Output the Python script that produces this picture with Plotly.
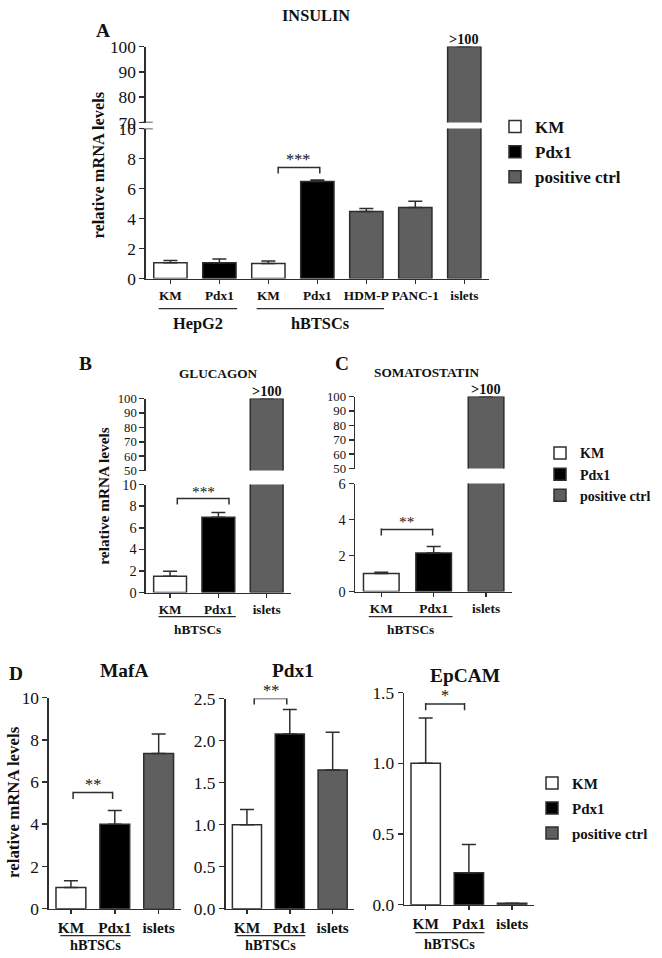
import plotly.graph_objects as go

W, H = 662, 958
# the page is photographed slightly reduced and shifted; positions below are given in
# picture pixels and converted with this measured mapping
S, OX, OY = 0.98, 2.0, 8.5
SERIF = "Liberation Serif, Times New Roman, DejaVu Serif, serif"
EDGE = "#2e2e2e"
COLORS = {"KM": "#ffffff", "Pdx1": "#000000", "positive ctrl": "#5f5f5f"}
SERIES_ORDER = ["KM", "Pdx1", "positive ctrl"]

# ---------------- data ----------------
# A: INSULIN
ins_cats = ["KM", "Pdx1", "KM", "Pdx1", "HDM-P", "PANC-1", "islets"]
ins_series = ["KM", "Pdx1", "KM", "Pdx1", "positive ctrl", "positive ctrl", "positive ctrl"]
ins_values = [1.05, 1.05, 1.0, 6.47, 4.47, 4.73, 100]
ins_errors = [0.15, 0.26, 0.17, 0.1, 0.2, 0.42, 0]
ins_groups = [("HepG2", 0, 1), ("hBTSCs", 2, 4)]

# B: GLUCAGON
glu_cats = ["KM", "Pdx1", "islets"]
glu_series = ["KM", "Pdx1", "positive ctrl"]
glu_values = [1.52, 6.97, 100]
glu_errors = [0.45, 0.45, 0]

# C: SOMATOSTATIN
som_cats = ["KM", "Pdx1", "islets"]
som_series = ["KM", "Pdx1", "positive ctrl"]
som_values = [1.0, 2.15, 100]
som_errors = [0.07, 0.35, 0]

# D: MafA, Pdx1, EpCAM
d_cats = ["KM", "Pdx1", "islets"]
d_series = ["KM", "Pdx1", "positive ctrl"]
mafa_values = [1.0, 4.0, 7.35]
mafa_errors = [0.32, 0.65, 0.93]
pdx_values = [1.0, 2.08, 1.65]
pdx_errors = [0.18, 0.29, 0.45]
epcam_values = [1.0, 0.225, 0.01]
epcam_errors = [0.32, 0.2, 0]
d_groups = [("hBTSCs", 0, 1)]

fig = go.Figure()


def PX(x):
    return ((x - OX) / S) / W


def PY(y):
    return 1 - ((y - OY) / S) / H


def FS(f):
    return round(f / S, 2)


def xd(p0, p1):
    return [PX(p0), PX(p1)]


def yd(top, bot):
    return [PY(bot), PY(top)]


def add_bars(n, values, errors, series, ymin=None, legend=None, show=False):
    ax = "" if n == 1 else str(n)
    for s in SERIES_ORDER:
        idx = [i for i, v in enumerate(series) if v == s and (ymin is None or values[i] > ymin)]
        if not idx:
            continue
        fig.add_trace(go.Bar(
            x=idx, y=[values[i] for i in idx], width=0.68, name=s, legendgroup=s,
            marker=dict(color=COLORS[s], line=dict(color=EDGE, width=1.5)),
            error_y=dict(type="data", symmetric=False,
                         array=[errors[i] for i in idx],
                         arrayminus=[0] * len(idx),
                         color=EDGE, thickness=1.5, width=7),
            xaxis="x" + ax, yaxis="y" + ax, showlegend=show,
            legend=legend if legend else "legend",
        ))


def axes(n, xdom, ydom, nc, yrange, ytickvals, ytickfmt, tfs, cats=None, cfs=12, xvis=True):
    ax = "" if n == 1 else str(n)
    xa = dict(domain=xdom, range=[-0.5, nc - 0.5], anchor="y" + ax, visible=xvis,
              showline=True, linecolor=EDGE, linewidth=1.5, showgrid=False, zeroline=False,
              ticks="outside", ticklen=4, tickwidth=1.5, tickcolor=EDGE,
              tickvals=list(range(nc)),
              ticktext=["<b>%s</b>" % c for c in cats] if cats else None,
              tickfont=dict(family=SERIF, size=FS(cfs), color="#111"), fixedrange=True)
    ya = dict(domain=ydom, range=yrange, anchor="x" + ax,
              showline=True, linecolor=EDGE, linewidth=1.5, showgrid=False, zeroline=False,
              ticks="outside", ticklen=5, tickwidth=1.5, tickcolor=EDGE,
              tickvals=ytickvals, tickformat=ytickfmt,
              tickfont=dict(family=SERIF, size=FS(tfs), color="#111"), fixedrange=True)
    fig.update_layout(**{"xaxis" + ax: xa, "yaxis" + ax: ya})


def bracket(n, x0, x1, y, tick, stars, size=16):
    ax = "" if n == 1 else str(n)
    xr, yr = "x" + ax, "y" + ax
    ln = dict(color=EDGE, width=1.5)
    fig.add_shape(type="line", xref=xr, yref=yr, x0=x0, x1=x1, y0=y, y1=y, line=ln)
    fig.add_shape(type="line", xref=xr, yref=yr, x0=x0, x1=x0, y0=y - tick, y1=y + tick * 0.15, line=ln)
    fig.add_shape(type="line", xref=xr, yref=yr, x0=x1, x1=x1, y0=y - tick, y1=y + tick * 0.15, line=ln)
    fig.add_annotation(xref=xr, yref=yr, x=(x0 + x1) / 2, y=y, text=stars, showarrow=False,
                       yanchor="bottom", yshift=-3, font=dict(family=SERIF, size=FS(size), color="#111"))


def groups(n, grp, line_py, label_py, fs):
    ax = "" if n == 1 else str(n)
    for name, a, b in grp:
        x0, x1 = a - 0.24, b + 0.36
        fig.add_shape(type="line", xref="x" + ax, yref="paper", x0=x0, x1=x1,
                      y0=PY(line_py), y1=PY(line_py), line=dict(color=EDGE, width=1.2))
        fig.add_annotation(xref="x" + ax, yref="paper", x=(x0 + x1) / 2, y=PY(label_py),
                           text="<b>%s</b>" % name, showarrow=False, yanchor="middle",
                           font=dict(family=SERIF, size=FS(fs), color="#111"))


def text(x, y, s, fs, angle=0, bold=True):
    fig.add_annotation(xref="paper", yref="paper", x=PX(x), y=PY(y),
                       text=("<b>%s</b>" % s) if bold else s, showarrow=False,
                       textangle=angle, xanchor="center", yanchor="middle",
                       font=dict(family=SERIF, size=FS(fs), color="#111"))


def over100(n, xi, yv):
    ax = "" if n == 1 else str(n)
    fig.add_annotation(xref="x" + ax, yref="y" + ax, x=xi, y=yv, text="<b>&gt;100</b>",
                       showarrow=False, yanchor="bottom", yshift=-2,
                       font=dict(family=SERIF, size=FS(14), color="#111"))


# ---------------- Panel A ----------------
axes(1, xd(145, 481), yd(128, 278), len(ins_cats), [0, 10], [0, 2, 4, 6, 8, 10], None, 17, ins_cats, 13)
axes(2, xd(145, 481), yd(46, 122), len(ins_cats), [70, 100], [70, 80, 90, 100], None, 17, None, 13, xvis=False)
add_bars(1, ins_values, ins_errors, ins_series, legend="legend", show=True)
add_bars(2, ins_values, ins_errors, ins_series, ymin=70)
over100(2, 6, 100)
bracket(1, 2.2, 3.05, 7.4, 0.4, "***")
groups(1, ins_groups, 308, 323, 16)
for yref, yv in (("y2", 70), ("y", 10)):
    fig.add_shape(type="line", xref="x domain" if yref == "y" else "x2 domain", yref=yref,
                  x0=-0.012, x1=0.02, y0=yv, y1=yv, line=dict(color=EDGE, width=1.5))
text(312, 15, "INSULIN", 16)
text(103, 30, "A", 19)
text(99, 164, "relative mRNA levels", 16, -90)

# ---------------- Panel B ----------------
axes(3, xd(145, 287), yd(484, 592), 3, [0, 10], [0, 2, 4, 6, 8, 10], None, 14, glu_cats, 13)
axes(4, xd(145, 287), yd(398, 470), 3, [50, 100], [50, 60, 70, 80, 90, 100], None, 12.5, None, 13, xvis=False)
add_bars(3, glu_values, glu_errors, glu_series)
add_bars(4, glu_values, glu_errors, glu_series, ymin=50)
over100(4, 2, 100)
bracket(3, 0.15, 1.22, 8.7, 0.55, "***", 15)
groups(3, d_groups, 616, 629, 13)
text(216, 373, "GLUCAGON", 13)
text(86, 363, "B", 19)
text(104, 496, "relative mRNA levels", 15, -90)

# ---------------- Panel C ----------------
axes(5, xd(350, 504), yd(483, 591), 3, [0, 6], [0, 2, 4, 6], None, 14, som_cats, 13)
axes(6, xd(350, 504), yd(396, 468), 3, [50, 100], [50, 60, 70, 80, 90, 100], None, 12.5, None, 13, xvis=False)
add_bars(5, som_values, som_errors, som_series, legend="legend2", show=True)
add_bars(6, som_values, som_errors, som_series, ymin=50)
over100(6, 2, 100)
bracket(5, 0.0, 0.98, 3.45, 0.33, "**", 15)
groups(5, d_groups, 616, 629, 13)
text(420, 372, "SOMATOSTATIN", 13)
text(337, 363, "C", 19)

# ---------------- Panel D ----------------
axes(7, xd(50, 179), yd(697, 908), 3, [0, 10], [0, 2, 4, 6, 8, 10], None, 17, d_cats, 15)
axes(8, xd(223, 349), yd(698, 908), 3, [0, 2.5], [0, 0.5, 1, 1.5, 2, 2.5], ".1f", 17, d_cats, 15)
axes(9, xd(398, 525), yd(692, 904), 3, [0, 1.5], [0, 0.5, 1, 1.5], ".1f", 17, d_cats, 15)
add_bars(7, mafa_values, mafa_errors, d_series, legend="legend3", show=True)
add_bars(8, pdx_values, pdx_errors, d_series)
add_bars(9, epcam_values, epcam_errors, d_series)
bracket(7, 0.05, 0.95, 5.5, 0.3, "**")
bracket(8, 0.17, 0.93, 2.5, 0.07, "**")
bracket(9, 0.0, 0.9, 1.42, 0.045, "*")
groups(7, d_groups, 935, 944, 14)
groups(8, d_groups, 935, 944, 14)
groups(9, d_groups, 932, 943, 14)
text(124, 670, "MafA", 19)
text(289, 670, "Pdx1", 19)
text(458, 675, "EpCAM", 19)
text(18, 673, "D", 19)
text(15, 801, "relative mRNA levels", 16.5, -90)

leg = dict(xanchor="left", yanchor="top", bgcolor="rgba(0,0,0,0)")
fig.update_layout(
    width=W, height=H, margin=dict(l=0, r=0, t=0, b=0),
    paper_bgcolor="white", plot_bgcolor="white", barmode="overlay",
    font=dict(family=SERIF, color="#111"),
    legend=dict(x=495 / W, y=1 - 102 / H, font=dict(family=SERIF, size=17, weight="bold"),
                traceorder="grouped", tracegroupgap=0, **leg),
    legend2=dict(x=540 / W, y=1 - 437 / H, font=dict(family=SERIF, size=14, weight="bold"),
                 traceorder="grouped", tracegroupgap=0, **leg),
    legend3=dict(x=532 / W, y=1 - 773 / H, font=dict(family=SERIF, size=15, weight="bold"),
                 traceorder="grouped", tracegroupgap=2.5, **leg),
)

fig.write_html(
    "out.html",
    config={"displayModeBar": False, "staticPlot": True},
    post_script="document.body.style.margin='0';",
)
